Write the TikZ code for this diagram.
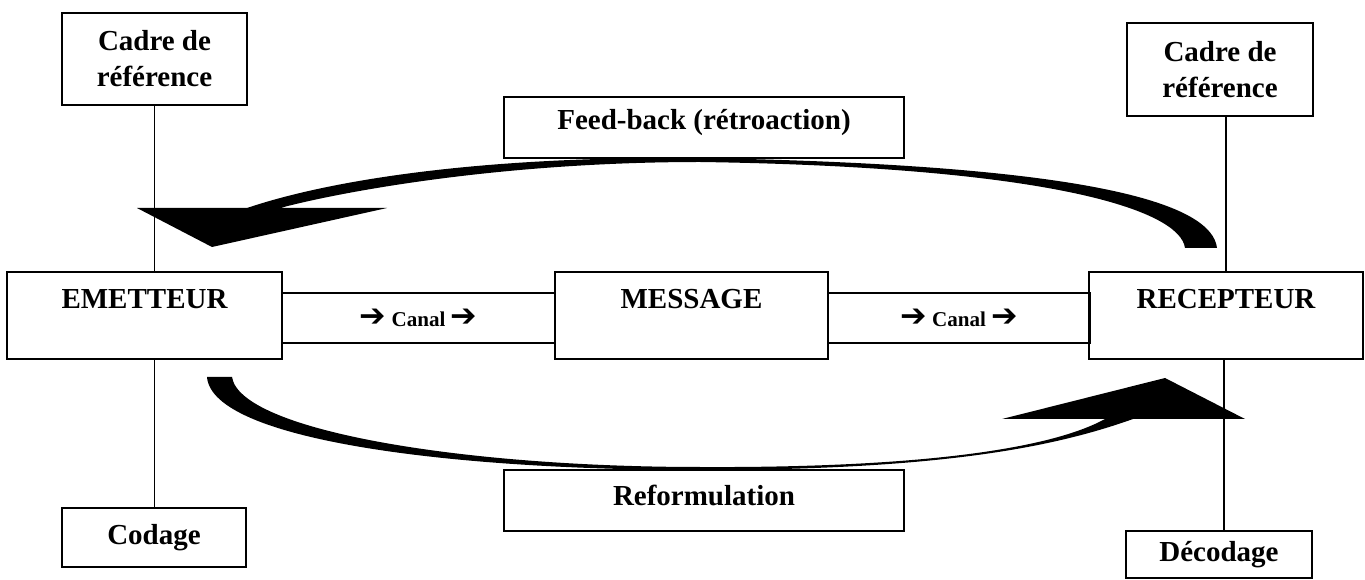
\documentclass[tikz,border=0pt]{standalone}
\usepackage{fontspec}
\setmainfont{Liberation Serif}
\newfontfamily\symbfont{DejaVu Sans}
\usetikzlibrary{positioning}

\newcommand{\canalarrow}{{\symbfont\bfseries\fontsize{18}{18}\selectfont\char"2794}}

\begin{document}
\begin{tikzpicture}[x=0.02cm, y=-0.02cm, line width=0.8pt]
    \tikzstyle{acteur} = [rectangle, draw=black, minimum height=1.74cm, text height=0.74cm, text depth=1.0cm, inner sep=0pt, font=\fontsize{16.5}{20}\selectfont\bfseries]
    \tikzstyle{canal} = [rectangle, draw=black, minimum height=1.0cm, inner sep=0pt, font=\fontsize{12}{14}\selectfont\bfseries]
    \tikzstyle{cadre} = [rectangle, draw=black, minimum width=3.7cm, inner sep=0pt, align=center, font=\fontsize{16.5}{20.5}\selectfont\bfseries]
    \tikzstyle{retour} = [rectangle, draw=black, minimum width=8cm, minimum height=1.22cm, inner sep=0pt, font=\fontsize{16.5}{20}\selectfont\bfseries]
    \useasboundingbox (0,0) rectangle (1365,580);

    % Chaine principale
    \node [acteur, minimum width=5.5cm] (emetteur) at (144.5,315.5) {EMETTEUR};
    \node [canal, minimum width=5.46cm] (canal1) at (418.5,318) {\canalarrow{} Canal \canalarrow};
    \node [acteur, minimum width=5.46cm] (message) at (691.5,315.5) {MESSAGE};
    \node [canal, minimum width=5.24cm] (canal2) at (959,318) {\canalarrow{} Canal \canalarrow};
    \node [acteur, minimum width=5.48cm] (recepteur) at (1226,315.5) {RECEPTEUR};

    % Cadres de reference, codage et decodage
    \node [cadre, minimum height=1.84cm] (cadre_em) at (154.5,59) {Cadre de\\référence};
    \node [cadre, minimum height=1.86cm, minimum width=3.72cm] (cadre_rec) at (1220,69.5) {Cadre de\\référence};
    \node [cadre, minimum height=1.18cm, minimum width=3.68cm] (codage) at (154,537.5) {Codage};
    \node [cadre, minimum height=0.94cm, minimum width=3.72cm] (decodage) at (1219,554.5) {Décodage};

    % Boucles
    \node [retour, text height=0.66cm, text depth=0.56cm] (feedback) at (704,127.5) {Feed-back (rétroaction)};
    \node [retour, text height=0.72cm, text depth=0.5cm] (reform) at (704,500.5) {Reformulation};

    % Liaisons
    \draw (cadre_em.south) -- (cadre_em.south |- emetteur.north);
    \draw (cadre_em.south |- emetteur.south) -- (codage.north -| cadre_em.south);
    \draw ([xshift=0.12cm]cadre_rec.south) -- ([xshift=0.12cm]cadre_rec.south |- recepteur.north);
    \draw ([xshift=0.1cm]decodage.north |- recepteur.south) -- ([xshift=0.1cm]decodage.north);

    % Fleche du feed-back
    \fill (1217,248) .. controls (1212,205) and (1100,165) .. (700,158)
        .. controls (480,156) and (330,180) .. (247,208)
        -- (137,208) -- (212,247) -- (387,208) -- (280,208)
        .. controls (340,192) and (500,162) .. (700,162)
        .. controls (1050,167) and (1180,210) .. (1185,248) -- cycle;

    % Fleche de la reformulation
    \fill (207,377) .. controls (212,440) and (450,470) .. (700,470)
        .. controls (950,470) and (1060,445) .. (1133,419)
        -- (1245,419) -- (1165,378) -- (1002,419) -- (1105,419)
        .. controls (1045,452) and (900,468) .. (700,467)
        .. controls (460,467) and (240,430) .. (232,377) -- cycle;
\end{tikzpicture}
\end{document}
